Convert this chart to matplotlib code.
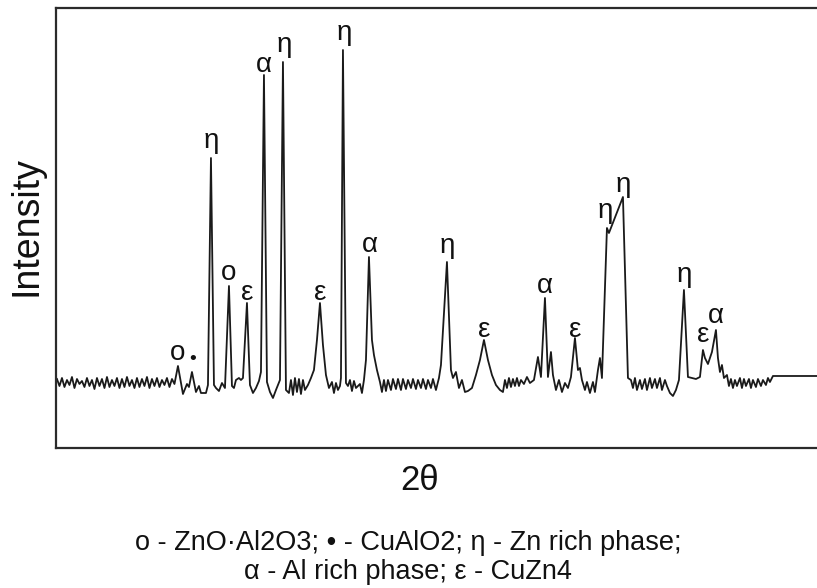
import numpy as np
import matplotlib
matplotlib.use('Agg')
import matplotlib.pyplot as plt

# ---------------------------------------------------------------
# data (2theta in deg, intensity in a.u.)
# ---------------------------------------------------------------
two_theta = [
    19.7, 19.95, 20.2, 20.45, 20.7, 20.95, 21.2, 21.45, 21.7, 21.95,
    22.2, 22.45, 22.7, 22.95, 23.2, 23.45, 23.7, 23.95, 24.2, 24.45,
    24.7, 24.95, 25.2, 25.45, 25.7, 25.95, 26.2, 26.45, 26.7, 26.95,
    27.2, 27.45, 27.7, 27.95, 28.2, 28.45, 28.7, 28.95, 29.2, 29.45,
    29.7, 29.95, 30.2, 30.45, 30.7, 30.95, 31.2, 31.45,
    31.8, 32.3, 32.7, 32.9, 33.2, 33.6, 33.9, 34.1, 34.6,
    34.8, 35.1, 35.4, 35.6, 35.9, 36.2, 36.5, 36.9, 37.2, 37.4,
    37.6, 37.9, 38.1, 38.3, 38.7, 39.0, 39.3, 39.6, 39.9, 40.1,
    40.4, 40.7, 41.0, 41.3, 41.6, 42.0, 42.3, 42.6, 42.9, 43.1,
    43.3, 43.5, 43.7, 43.9, 44.1, 44.3, 44.5, 44.8, 45.1, 45.4,
    45.7, 46.0, 46.3, 46.6, 46.9, 47.2, 47.4, 47.6, 47.8, 48.0,
    48.1, 48.3, 48.6, 48.8, 49.0, 49.2, 49.4, 49.6, 49.8, 50.0,
    50.2, 50.4, 50.6, 50.9, 51.2, 51.4, 51.7, 52.0, 52.2, 52.4,
    52.6, 52.8, 53.1, 53.3, 53.6, 53.8, 54.1, 54.3, 54.6, 54.8,
    55.1, 55.3, 55.6, 55.8, 56.1, 56.3, 56.6, 56.8, 57.1, 57.3,
    57.6, 57.9, 58.1, 58.7, 59.1, 59.3, 59.6, 59.9, 60.2, 60.5,
    60.8, 61.2, 61.6, 62.0, 62.4, 62.8, 63.2, 63.6, 64.0, 64.3,
    64.5, 64.7, 64.9, 65.1, 65.3, 65.5, 65.7, 65.9, 66.1, 66.4,
    66.7, 67.0, 67.4, 67.8, 68.1, 68.5, 68.8, 69.1, 69.3, 69.6,
    69.9, 70.2, 70.5, 70.8, 71.1, 71.5, 71.8, 72.0, 72.2, 72.5,
    72.7, 73.0, 73.3, 73.5, 73.8, 74.0, 74.2, 74.7, 74.9, 76.3,
    76.8, 77.1, 77.3, 77.5, 77.7, 78.0, 78.2, 78.5, 78.7, 79.0,
    79.2, 79.5, 79.7, 80.0, 80.2, 80.5, 80.7, 81.0, 81.3, 81.6,
    81.9, 82.4, 82.8, 83.2, 83.6, 84.0, 84.3, 84.5, 84.8, 85.2,
    85.6, 85.8, 86.0, 86.2, 86.4, 86.7, 86.9, 87.1, 87.3, 87.5,
    87.7, 88.0, 88.2, 88.4, 88.6, 88.9, 89.1, 89.3, 89.6, 89.8,
    90.1, 90.3, 90.6, 90.8, 91.0, 91.3, 96.4]
intensity = [
    21, 14, 22, 13, 20, 15, 23, 12, 21, 16,
    19, 13, 22, 14, 20, 11, 22, 14, 21, 12,
    23, 13, 20, 14, 22, 12, 21, 13, 23, 14,
    20, 12, 22, 13, 21, 14, 23, 12, 21, 14,
    22, 13, 20, 15, 22, 13, 21, 16,
    34, 6, 16, 13, 28, 8, 14, 7, 7,
    15, 242, 15, 12, 9, 17, 12, 114, 14, 12,
    20, 22, 20, 22, 97, 15, 7, 12, 19, 28,
    325, 18, 8, 2, 10, 20, 338, 10, 7, 20,
    5, 22, 8, 21, 6, 20, 10, 15, 22, 30,
    60, 97, 55, 25, 12, 18, 7, 17, 10, 14,
    22, 350, 17, 14, 20, 9, 19, 12, 14, 16,
    7, 20, 40, 143, 60, 45, 30, 18, 8, 20,
    9, 20, 10, 21, 11, 21, 10, 21, 11, 20,
    12, 21, 11, 20, 12, 21, 11, 20, 12, 21,
    10, 22, 35, 138, 30, 22, 28, 12, 20, 8,
    9, 12, 25, 40, 60, 40, 25, 15, 10, 8,
    20, 12, 22, 13, 21, 14, 22, 14, 20, 16,
    23, 17, 20, 43, 23, 102, 23, 48, 25, 10,
    20, 8, 17, 12, 23, 62, 30, 32, 20, 10,
    18, 7, 18, 8, 30, 42, 22, 172, 167, 203,
    22, 20, 12, 22, 10, 20, 11, 21, 10, 22,
    12, 21, 12, 22, 10, 20, 14, 7, 4, 10,
    20, 110, 23, 22, 21, 23, 50, 42, 36, 48,
    70, 42, 28, 35, 22, 25, 14, 21, 12, 20,
    14, 22, 12, 21, 14, 21, 12, 20, 13, 21,
    14, 20, 15, 22, 18, 24, 24]

# peak labels: position of each phase symbol
label_text = ['o', 'η', 'o', 'ε', 'α', 'η', 'ε', 'η', 'α', 'η',
              'ε', 'α', 'ε', 'η', 'η', 'η', 'ε', 'α']
label_x = [31.8, 35.1, 36.9, 38.7, 40.4, 42.4, 46.0, 48.4, 51.0, 58.7,
           62.4, 68.5, 71.5, 74.5, 76.3, 82.4, 84.3, 85.6]
label_y = [40, 252, 120, 100, 328, 348, 100, 360, 148, 147,
           63, 107, 63, 182, 208, 118, 58, 77]
dot_x, dot_y = 33.3, 40

caption = ['o - ZnO·Al2O3; • - CuAlO2; η - Zn rich phase;',
           'α - Al rich phase; ε - CuZn4']

# ---------------------------------------------------------------
fig = plt.figure(figsize=(8.17, 5.88), dpi=100)
ax = fig.add_axes([0.0685, 0.2381, 0.94, 0.7483])

ax.plot(two_theta, intensity, color='#1a1a1a', lw=1.3)
ax.set_xlim(19.6, 96.4)
ax.set_ylim(-48, 392)
ax.set_xticks([])
ax.set_yticks([])
for s in ax.spines.values():
    s.set_linewidth(1.6)
    s.set_color('#2b2b2b')
ax.spines['right'].set_visible(False)

for t, x, y in zip(label_text, label_x, label_y):
    ax.text(x, y, t, ha='center', va='baseline', fontsize=20,
            family='Liberation Sans', color='#111111')
ax.text(dot_x, dot_y, '•', ha='center', va='center', fontsize=14,
        family='Liberation Sans', color='#111111')

fig.text(27/817, 1-226/588, 'Intensity', rotation=90, ha='center', va='center',
         fontsize=27, family='Liberation Sans', color='#111111')
fig.text(420/817, 1-480/588, '2θ', ha='center', va='center',
         fontsize=25, family='Liberation Sans', color='#111111')
fig.text(408/817, 1-543/588, caption[0], ha='center', va='center',
         fontsize=19.5, family='Liberation Sans', color='#111111')
fig.text(408/817, 1-572/588, caption[1], ha='center', va='center',
         fontsize=19.5, family='Liberation Sans', color='#111111')

fig.savefig('out.png', dpi=100)
